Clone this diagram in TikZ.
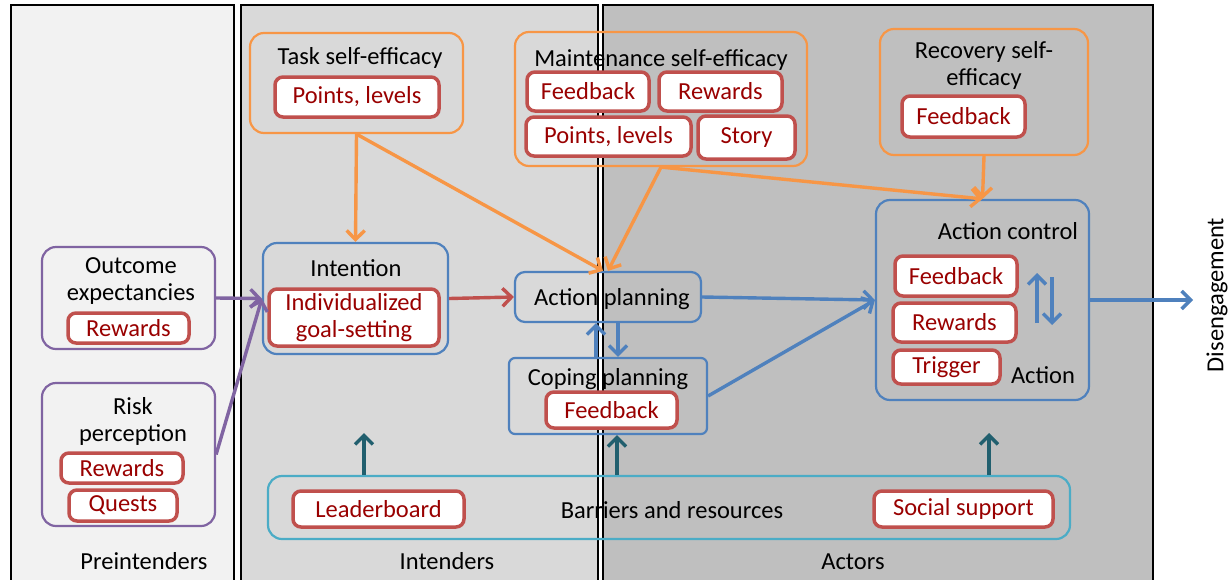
\documentclass[tikz,border=0pt]{standalone}
\usepackage{fontspec}
\setmainfont{Carlito}
\usetikzlibrary{arrows.meta}
\definecolor{cOrange}{HTML}{F79646}
\definecolor{cPurple}{HTML}{8064A2}
\definecolor{cBlue}{HTML}{4F81BD}
\definecolor{cRed}{HTML}{C0504D}
\definecolor{cTxt}{HTML}{990000}
\definecolor{cCyan}{HTML}{4BACC6}
\definecolor{cTeal}{HTML}{215F6E}
\definecolor{pA}{HTML}{F2F2F2}
\definecolor{pB}{HTML}{D9D9D9}
\definecolor{pC}{HTML}{BFBFBF}
\newcommand\fsz{\fontsize{24.5}{27}\selectfont}
\begin{document}
\begin{tikzpicture}[x=1pt,y=-1pt,font=\fsz,
  cont/.style={draw=#1, line width=2.2pt, rounded corners=14pt, inner sep=0pt},
  rbox/.style={draw=cRed, fill=white, line width=3.5pt, rounded corners=8pt, text=cTxt, inner sep=0pt, align=center},
  lbl/.style={inner sep=0pt, align=center},
  arr/.style={line width=3.4pt, draw=#1, -{Straight Barb[length=9pt,width=18pt]}},
]
\useasboundingbox (0,0) rectangle (1229,579);
\fill[white] (0,0) rectangle (1229,579);
% panels
\draw[fill=pA, line width=2pt] (11,5) rectangle (234,585);
\draw[fill=pB, line width=2pt] (241,5) rectangle (598,585);
\draw[fill=pC, line width=2pt] (603,5) rectangle (1153,585);
\node[lbl] (lpre) at (144,561) {Preintenders};
\node[lbl] (lint) at (447,561) {Intenders};
\node[lbl] (lact) at (853,562) {Actors};

% task self-efficacy
\node[cont=cOrange, minimum width=213, minimum height=100] (task) at (356.5,83) {};
\node[lbl] (taskt) at (360,58) {Task self-efficacy};
\node[rbox, minimum width=164, minimum height=40] (taskpl) at (357,97) {Points, levels};

% maintenance self-efficacy
\node[cont=cOrange, minimum width=292, minimum height=134] (maint) at (661,99) {};
\node[lbl] (maintt) at (661,60) {Maintenance self-efficacy};
\node[rbox, minimum width=122, minimum height=39] (mfb) at (588,91.5) {Feedback};
\node[rbox, minimum width=123, minimum height=39] (mrw) at (720.5,91.5) {Rewards};
\node[rbox, minimum width=165, minimum height=39] (mpl) at (608.5,136.5) {Points, levels};
\node[rbox, minimum width=97, minimum height=43] (mst) at (746.5,137.5) {Story};

% recovery self-efficacy
\node[cont=cOrange, minimum width=208, minimum height=126] (recov) at (984,92) {};
\node[lbl] (recovt) at (984,65) {Recovery self-\\efficacy};
\node[rbox, minimum width=123, minimum height=41] (rfb) at (963.5,116.5) {Feedback};

% outcome expectancies
\node[cont=cPurple, minimum width=173, minimum height=102] (outc) at (128.5,298) {};
\node[lbl] (outct) at (131,281) {Outcome\\expectancies};
\node[rbox, minimum width=121, minimum height=30] (orw) at (128.5,328) {Rewards};

% risk perception
\node[cont=cPurple, minimum width=173, minimum height=143] (risk) at (128.5,454.5) {};
\node[lbl] (riskt) at (133,421) {Risk\\perception};
\node[rbox, minimum width=122, minimum height=30] (rrw) at (122,468) {Rewards};
\node[rbox, minimum width=108, minimum height=31] (rqu) at (123,505.5) {Quests};

% intention
\node[cont=cBlue, minimum width=185, minimum height=111] (intent) at (355.5,298.5) {};
\node[lbl] (intentt) at (356,268) {Intention};
\node[rbox, minimum width=170, minimum height=57] (indiv) at (354,317.5) {Individualized\\goal-setting};

% action planning
\node[cont=cBlue, rounded corners=10pt, minimum width=186, minimum height=50] (ap) at (608,297) {};
\node[lbl] (apt) at (612,299) {Action planning};

% coping planning
\node[cont=cBlue, rounded corners=6pt, minimum width=198, minimum height=76] (cp) at (608,396) {};
\node[lbl] (cpt) at (608,379) {Coping planning};
\node[rbox, minimum width=131, minimum height=36] (cfb) at (611.5,410) {Feedback};

% action control
\node[cont=cBlue, minimum width=213, minimum height=200] (ac) at (982.5,300) {};
\node[lbl] (act) at (1008,231) {Action control};
\node[rbox, minimum width=122, minimum height=40] (afb) at (956,276) {Feedback};
\node[rbox, minimum width=123, minimum height=39] (arw) at (954.5,322.5) {Rewards};
\node[rbox, minimum width=107, minimum height=34] (atr) at (946.5,367) {Trigger};
\node[lbl] (aact) at (1043,375) {Action};

% barriers and resources
\node[cont=cCyan, minimum width=802, minimum height=63] (bar) at (669,507.5) {};
\node[lbl] (bart) at (672,510) {Barriers and resources};
\node[rbox, minimum width=171, minimum height=36] (lead) at (378.5,509) {Leaderboard};
\node[rbox, minimum width=179, minimum height=36] (soc) at (963.5,509) {Social support};

% disengagement
\node[lbl, rotate=90] (dis) at (1217,295) {Disengagement};

% coordinates for free ends
\coordinate (dend) at (1193,300);
\coordinate (t1) at (364,433);
\coordinate (t3) at (989,433);
\coordinate (u1) at (1037,323);
\coordinate (u2) at (1037,273);
\coordinate (d1) at (1052,277);
\coordinate (d2) at (1052,325);

% orange arrows
\draw[arr=cOrange] (task.south) -- (intent.north);
\draw[arr=cOrange] (task.south) -- ([xshift=-5pt]ap.north);
\draw[arr=cOrange] (maint.south) -- (ap.north);
\draw[arr=cOrange] (maint.south) -- (ac.north);
\draw[arr=cOrange] (recov.south) -- (ac.north);
% purple arrows
\draw[arr=cPurple] (outc.east) -- (intent.west);
\draw[arr=cPurple] (risk.east) -- (intent.west);
% red arrow
\draw[arr=cRed] (intent.east) -- (ap.west);
% blue arrows
\draw[arr=cBlue] (ap.east) -- (ac.west);
\draw[arr=cBlue] (cp.east) -- (ac.west);
\draw[arr=cBlue] ([xshift=-12pt]cp.north) -- ([xshift=-12pt]ap.south);
\draw[arr=cBlue] ([xshift=10pt]ap.south) -- ([xshift=10pt]cp.north);
\draw[arr=cBlue] (ac.east) -- (dend);
\draw[arr=cBlue] (u1) -- (u2);
\draw[arr=cBlue] (d1) -- (d2);
% teal arrows
\draw[arr=cTeal] (bar.north -| t1) -- (t1);
\draw[arr=cTeal] ([xshift=9pt]bar.north -| cp.south) -- ([xshift=9pt]cp.south);
\draw[arr=cTeal] (bar.north -| t3) -- (t3);
\end{tikzpicture}
\end{document}
